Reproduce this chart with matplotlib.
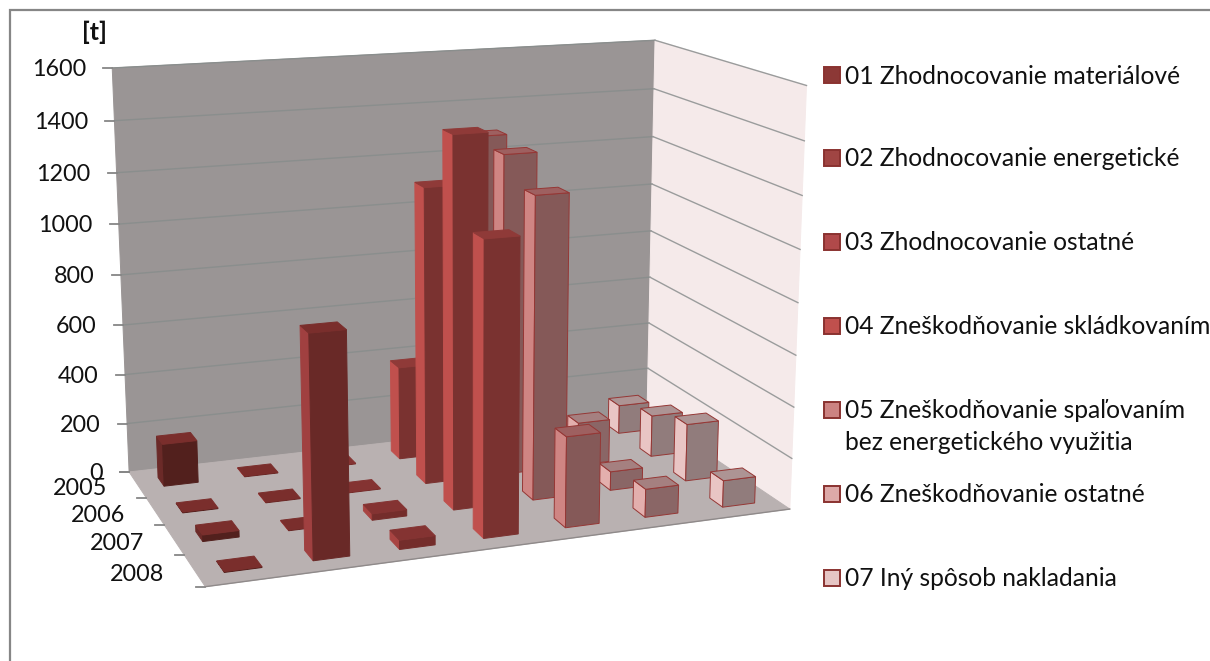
import numpy as np
import matplotlib
matplotlib.use("Agg")
import matplotlib.pyplot as plt
from matplotlib.patches import Polygon, Rectangle

years = ["2005", "2006", "2007", "2008"]
value_ticks = [0, 200, 400, 600, 800, 1000, 1200, 1400, 1600]
series = ["01 Zhodnocovanie materiálové", "02 Zhodnocovanie energetické", "03 Zhodnocovanie ostatné",
          "04 Zneškodňovanie skládkovaním", "05 Zneškodňovanie spaľovaním\nbez energetického využitia",
          "06 Zneškodňovanie ostatné", "07 Iný spôsob nakladania"]
s01 = [170, 3, 25, 3]
s02 = [3, 3, 3, 830]
s03 = [3, 3, 25, 35]
s04 = [380, 1170, 1425, 1110]
s05 = [1290, 1275, 1180, 350]
s06 = [0, 175, 75, 110]
s07 = [120, 170, 230, 105]
values = [s01, s02, s03, s04, s05, s06, s07]

left_faces = ["#6B2A28", "#A04040", "#A84442", "#C0504D", "#CF8583", "#E3AFAD", "#E9C5C4"]
front_faces = ["#52201D", "#692927", "#742D2B", "#7A3230", "#855958", "#8A6666", "#917C7C"]
top_faces = ["#7A2E2C", "#7A2E2C", "#843332", "#8F3A38", "#9E6060", "#A58080", "#AD9494"]
legend_faces = ["#8C3836", "#A04543", "#B0494A", "#C0504D", "#CC8382", "#DDA9A8", "#E6C5C4"]
legend_y = [75, 158, 242, 326, 410, 494, 578]

# calibration of the chart box: (series pos, depth pos, value) -> pixel
calib = [
    (0, 4, 1600, 113, 67), (0, 4, 1400, 113.5, 120.5), (0, 4, 1200, 117, 173), (0, 4, 1000, 119, 225),
    (0, 4, 800, 121, 275), (0, 4, 600, 122.6, 325), (0, 4, 400, 125, 375), (0, 4, 200, 127, 424), (0, 4, 0, 129, 472),
    (7, 4, 1600, 655, 40), (7, 4, 1200, 653, 137), (7, 4, 1000, 652, 184), (7, 4, 800, 651, 232),
    (7, 4, 600, 650, 277), (7, 4, 400, 649, 323), (7, 4, 200, 648, 368), (7, 4, 0, 647, 412),
    (7, 0, 1600, 806, 85), (7, 0, 0, 790, 510), (0, 0, 0, 205, 587),
    (0, 3, 0, 145, 497), (0, 2, 0, 165, 525), (0, 1, 0, 185, 554),
]
A = []
for X, Y, Z, u, v in calib:
    p = [X, Y, Z / 1600, 1]
    A.append(p + [0, 0, 0, 0] + [-u * c for c in p])
    A.append([0, 0, 0, 0] + p + [-v * c for c in p])
P = np.linalg.svd(np.array(A, float))[2][-1].reshape(3, 4)


def proj(X, Y, Z):
    h = P @ np.array([X, Y, Z / 1600, 1.0])
    return h[0] / h[2], h[1] / h[2]


plt.rcParams['font.family'] = ['Lato', 'DejaVu Sans']
fig = plt.figure(figsize=(12.10, 6.61), dpi=100)
ax = fig.add_axes([0, 0, 1, 1])
ax.set_xlim(0, 1210)
ax.set_ylim(661, 0)
ax.axis("off")

# outer frame
ax.plot([10, 10, 1210], [661, 10, 10], color="#868686", lw=1.6, solid_joinstyle="miter")


def face(pts, fc, ec=None, lw=0.7, z=2):
    ax.add_patch(Polygon([proj(*p) for p in pts], closed=True, facecolor=fc,
                         edgecolor=ec if ec else fc, lw=lw, zorder=z))


# walls
face([(0, 4, 0), (7, 4, 0), (7, 4, 1600), (0, 4, 1600)], "#9A9595", z=1)
face([(7, 4, 0), (7, 0, 0), (7, 0, 1600), (7, 4, 1600)], "#F5EAEA", z=1)
face([(0, 0, 0), (7, 0, 0), (7, 4, 0), (0, 4, 0)], "#B9B1B1", z=1)
for t in value_ticks:
    a, b, c = proj(0, 4, t), proj(7, 4, t), proj(7, 0, t)
    if t > 0:
        ax.plot([a[0], b[0]], [a[1], b[1]], color="#8A8E8D", lw=1.0, zorder=1.5)
        ax.plot([b[0], c[0]], [b[1], c[1]], color="#9A9C9C", lw=1.0, zorder=1.5)
    ax.plot([a[0] - 9, a[0]], [a[1], a[1]], color="#868686", lw=1.3, zorder=1.5)
    ax.text(a[0] - 26, a[1] + 1.5, str(t), ha="right", va="center", fontsize=16.8, color="#111111")
for d in range(5):
    a = proj(0, d, 0)
    ax.plot([a[0] - 9, a[0]], [a[1], a[1]], color="#868686", lw=1.3, zorder=1.5)
for j, y in enumerate(years):
    a = proj(0, 3.5 - j, 0)
    ax.text(a[0] - 30, a[1] + 4, y, ha="right", va="center", fontsize=16.8, color="#111111", zorder=1.6)
f0, f1 = proj(0, 0, 0), proj(7, 0, 0)
ax.plot([f0[0], f1[0]], [f0[1], f1[1]], color="#8F8A8A", lw=1.0, zorder=1.5)
ax.text(94, 32, "[t]", ha="center", va="center", fontsize=18, fontweight="bold", color="#111111")

# bars, back rows first, right to left inside a row
gx, gy = 0.29, 0.33
order = 3
for j in range(len(years)):
    d = 3 - j
    for i in range(len(values) - 1, -1, -1):
        v = values[i][j]
        if v <= 0:
            continue
        x0, x1 = i + gx, i + 1 - gx
        y0, y1 = d + gy, d + 1 - gy
        ec = "#953735" if i >= 4 else None
        face([(x0, y0, 0), (x0, y1, 0), (x0, y1, v), (x0, y0, v)], left_faces[i], ec, z=order)
        face([(x0, y0, 0), (x1, y0, 0), (x1, y0, v), (x0, y0, v)], front_faces[i], ec, z=order)
        face([(x0, y0, v), (x1, y0, v), (x1, y1, v), (x0, y1, v)], top_faces[i], ec, z=order)
        order += 0.01

# legend
for name, yc, col in zip(series, legend_y, legend_faces):
    ax.add_patch(Rectangle((824, yc - 8), 16, 16, facecolor=col, edgecolor="#8A3230", lw=1.4))
    lines = name.split("\n")
    for k, line in enumerate(lines):
        ax.text(845, yc + 1 + k * 32, line, ha="left", va="center", fontsize=17.7, color="#111111")

fig.savefig("out.png", dpi=100)
